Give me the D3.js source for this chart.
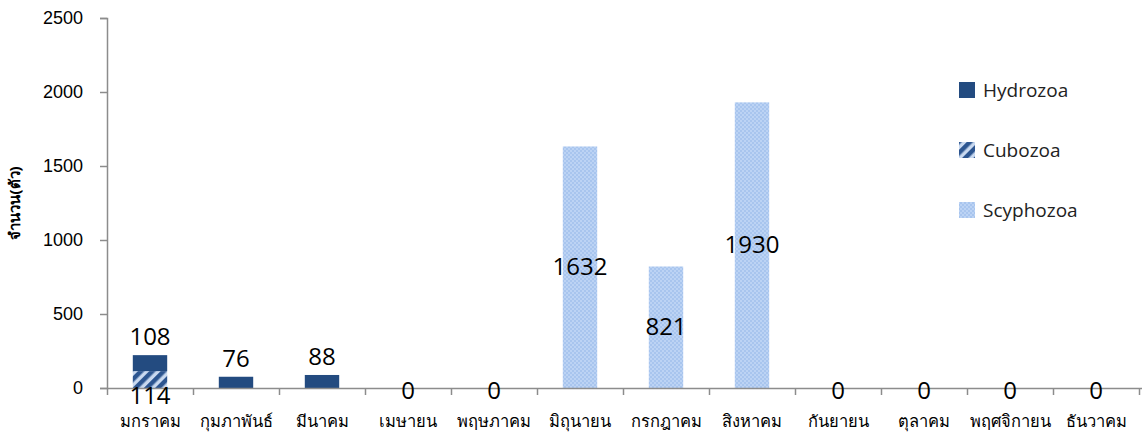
<!DOCTYPE html>
<html>
<head>
<meta charset="utf-8">
<script src="https://cdn.jsdelivr.net/npm/d3@7"></script>
<style>
  html, body { margin: 0; padding: 0; background: #fff; }
  svg { display: block; font-family: "Open Sans", "Noto Sans", sans-serif; }
</style>
</head>
<body>
<svg id="chart" width="1144" height="436"></svg>
<script>
const months = ["มกราคม","กุมภาพันธ์","มีนาคม","เมษายน","พฤษภาคม","มิถุนายน","กรกฎาคม","สิงหาคม","กันยายน","ตุลาคม","พฤศจิกายน","ธันวาคม"];
const scyphozoa = [null,null,null,null,null,1632,821,1930,null,null,null,null];
const cubozoa   = [114,null,null,null,null,null,null,null,null,null,null,null];
const hydrozoa  = [108,76,88,0,0,null,null,null,0,0,0,0];
const seriesNames = ["Hydrozoa","Cubozoa","Scyphozoa"];
const yTicks = [0,500,1000,1500,2000,2500];
const yTitle = "จำนวน(ตัว)";

(function(){
const svg = d3.select("#chart");
const pL = 107, pR = 1139, pT = 18, pB = 388;

const y = d3.scaleLinear().domain([0,2500]).range([pB, pT]);
const x = d3.scaleBand().domain(months).range([pL, pR]).paddingInner(0.6).paddingOuter(0.3);
const xb = d3.scaleLinear().domain([0, months.length]).range([pL, pR]);

// patterns
const defs = svg.append("defs");
const hatch = defs.append("pattern").attr("id","hatch").attr("patternUnits","userSpaceOnUse")
  .attr("width",8).attr("height",8).attr("patternTransform","rotate(45)");
hatch.append("rect").attr("width",8).attr("height",8).attr("fill","#c9d9f0");
hatch.append("rect").attr("width",4.5).attr("height",8).attr("fill","#2c5590");

const dots = defs.append("pattern").attr("id","dots").attr("patternUnits","userSpaceOnUse")
  .attr("width",4).attr("height",4);
dots.append("rect").attr("width",4).attr("height",4).attr("fill","#a8c5ee");
dots.append("rect").attr("width",2).attr("height",2).attr("fill","#bcd3f4");
dots.append("rect").attr("x",2).attr("y",2).attr("width",2).attr("height",2).attr("fill","#bcd3f4");

const fills = {Hydrozoa:"#234b80", Cubozoa:"url(#hatch)", Scyphozoa:"url(#dots)"};

// stacking: Scyphozoa bottom, Cubozoa, Hydrozoa top
const rows = months.map((m,i)=>({m, Scyphozoa: scyphozoa[i]||0, Cubozoa: cubozoa[i]||0, Hydrozoa: hydrozoa[i]||0}));
const stack = d3.stack().keys(["Scyphozoa","Cubozoa","Hydrozoa"])(rows);

stack.forEach(s=>{
  svg.append("g").selectAll("rect").data(s.filter(d=>d[1]-d[0]>0)).join("rect")
    .attr("x", d=>x(d.data.m)).attr("width", x.bandwidth())
    .attr("y", d=>y(d[1])).attr("height", d=>y(d[0])-y(d[1]))
    .attr("fill", fills[s.key]);
});

// axes
const yAxis = svg.append("g").attr("transform",`translate(${pL},0)`)
  .call(d3.axisLeft(y).tickValues(yTicks).tickSize(7).tickPadding(17).tickFormat(d3.format("d")));
yAxis.selectAll("text").attr("font-size",18).attr("fill","#000");
yAxis.selectAll("line, path").attr("stroke","#8c8c8c").attr("stroke-width",1.5);

const xAxis = svg.append("g").attr("transform",`translate(0,${pB})`)
  .call(d3.axisBottom(xb).tickValues(d3.range(months.length+1)).tickSize(7).tickFormat(""));
xAxis.selectAll("line, path").attr("stroke","#8c8c8c").attr("stroke-width",1.5);
xAxis.select("path").attr("d", `M${pL},0.5H${pR+3}`);

svg.append("g").selectAll("text").data(months).join("text")
  .attr("x", d=>x(d)+x.bandwidth()/2).attr("y", 427)
  .attr("text-anchor","middle").attr("font-size",16.5).attr("fill","#000")
  .text(d=>d);

// y title
svg.append("text").attr("transform",`translate(20,${(pT+pB)/2}) rotate(-90)`)
  .attr("text-anchor","middle").attr("font-size",15).attr("font-weight","bold")
  .text(yTitle);

// data labels
const lab = svg.append("g").attr("font-size",24).attr("text-anchor","middle").attr("fill","#000");
months.forEach((m,i)=>{
  const cx = x(m)+x.bandwidth()/2;
  const sc = scyphozoa[i], cu = cubozoa[i], hy = hydrozoa[i];
  if (sc != null) lab.append("text").attr("x",cx).attr("y",(y(0)+y(sc))/2+8).text(sc);
  if (cu != null) lab.append("text").attr("x",cx).attr("y",y(0)+16).text(cu);
  if (hy != null) {
    if (hy === 0) lab.append("text").attr("x",cx).attr("y",y(0)+11).text(hy);
    else {
      const topv = (sc||0)+(cu||0)+hy;
      lab.append("text").attr("x",cx).attr("y",y(topv)-10).text(hy);
    }
  }
});

// legend
const leg = svg.append("g");
seriesNames.forEach((n,i)=>{
  const cy = 90 + i*60;
  leg.append("rect").attr("x",959).attr("y",cy-8).attr("width",16).attr("height",16).attr("fill",fills[n]);
  leg.append("text").attr("x",983).attr("y",cy+7).attr("font-size",19).attr("fill","#222").text(n);
});
})();
</script>
</body>
</html>
